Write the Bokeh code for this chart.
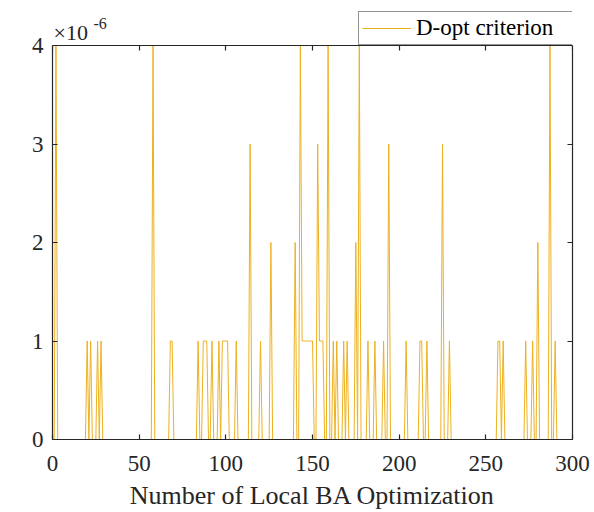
from bokeh.plotting import figure
from bokeh.models import (Range1d, LinearAxis, FixedTicker, Label, Legend,
                          LegendItem, CustomJSTickFormatter, ColumnDataSource)
from bokeh.embed import file_html
from bokeh.resources import INLINE

# ---------------- data (values in units of 1e-6) ----------------
n_points = 300
spike_index = [2, 20, 22, 26, 28, 58, 68, 69, 84, 87, 88, 89, 92, 96,
               98, 99, 100, 101, 106, 114, 120, 126, 140, 143,
               144, 145, 146, 147, 148, 149, 150, 153, 154, 155, 156,
               159, 162, 164, 168, 170, 175, 177, 182, 186, 191, 194,
               204, 212, 213, 216, 225, 229, 257, 258, 260, 273, 277,
               280, 287, 290]
spike_value = [4, 1, 1, 1, 1, 4, 1, 1, 1, 1, 1, 1, 1, 1,
               1, 1, 1, 1, 1, 3, 1, 2, 2, 4,
               1, 1, 1, 1, 1, 1, 1, 3, 1, 1, 1,
               4, 1, 1, 1, 1, 2, 4, 1, 1, 1, 3,
               1, 1, 1, 1, 3, 1, 1, 1, 1, 1, 1,
               2, 4, 1]
x_ticks = [0, 50, 100, 150, 200, 250, 300]
y_ticks = [0, 1, 2, 3, 4]
x_label = "Number of Local BA Optimization"
series_name = "D-opt criterion"
exp_base = "\u00d710"
exp_power = "-6"

iterations = list(range(1, n_points + 1))
values = [0] * n_points
for i, v in zip(spike_index, spike_value):
    values[i - 1] = v
src = ColumnDataSource(dict(x=iterations, y=values))

FONT = "Liberation Serif"
INK = "#262626"
ORANGE = "#EDB120"
W, H = 594, 512
BORDER_L, BORDER_R, BORDER_B = 52, 22, 73
BOX_TOP_PX = 45                      # pixel row of the axes box top
frame_h = H - BORDER_B               # frame reaches the top edge of the canvas
box_h = frame_h - BOX_TOP_PX
y_lo, y_hi = y_ticks[0], y_ticks[-1]
y_frame_top = y_lo + (y_hi - y_lo) * frame_h / box_h

p = figure(width=W, height=H, output_backend="svg", toolbar_location=None,
           x_range=Range1d(x_ticks[0], x_ticks[-1]),
           y_range=Range1d(y_lo, y_frame_top),
           min_border_left=BORDER_L, min_border_right=BORDER_R,
           min_border_top=0, min_border_bottom=BORDER_B,
           background_fill_color="white", border_fill_color="white")
p.xgrid.visible = False
p.ygrid.visible = False
p.outline_line_color = None

r = p.line("x", "y", source=src, color=ORANGE, line_width=1.0)

def style_axis(ax, ticks, show_labels):
    ax.ticker = FixedTicker(ticks=ticks)
    ax.axis_line_color = INK
    ax.axis_line_width = 1.2
    ax.major_tick_line_color = INK
    ax.major_tick_line_width = 1.2
    ax.major_tick_in = 5
    ax.major_tick_out = 0
    ax.minor_tick_line_color = None
    ax.major_label_text_font = FONT
    ax.major_label_text_font_size = "23px"
    ax.major_label_text_color = INK
    if not show_labels:
        ax.formatter = CustomJSTickFormatter(code="return ''")
        ax.major_label_text_font_size = "0px"
        ax.major_label_standoff = 0

xa = p.xaxis[0]
style_axis(xa, x_ticks, True)
xa.major_label_standoff = 16
xa.axis_label = x_label
xa.axis_label_text_font = FONT
xa.axis_label_text_font_size = "26px"
xa.axis_label_text_font_style = "normal"
xa.axis_label_text_color = INK
xa.axis_label_standoff = 7

ya = p.yaxis[0]
style_axis(ya, y_ticks, True)
ya.major_label_standoff = 9
ya.bounds = (y_lo, y_hi)

right = LinearAxis(bounds=(y_lo, y_hi))
style_axis(right, y_ticks, False)
p.add_layout(right, "right")

top = LinearAxis(fixed_location=y_hi)
style_axis(top, x_ticks, False)
p.add_layout(top, "above")

p.add_layout(Label(x=x_ticks[0], y=y_hi, x_offset=1, y_offset=13, text=exp_base,
                   text_font=FONT, text_font_size="22px", text_color=INK,
                   text_baseline="alphabetic"))
p.add_layout(Label(x=x_ticks[0], y=y_hi, x_offset=41, y_offset=22, text=exp_power,
                   text_font=FONT, text_font_size="16px", text_color=INK,
                   text_baseline="alphabetic"))

legend = Legend(items=[LegendItem(label=series_name, renderers=[r])],
                location=(306, box_h), orientation="vertical",
                border_line_color=INK, border_line_width=1.2,
                background_fill_color="white", background_fill_alpha=1,
                label_text_font=FONT, label_text_font_size="23px",
                label_text_color="black", padding=3, spacing=0, margin=0,
                glyph_width=49, glyph_height=24, label_standoff=5,
                label_width=156, label_height=24)
p.add_layout(legend)

open("out.html", "w").write(file_html(p, INLINE))
